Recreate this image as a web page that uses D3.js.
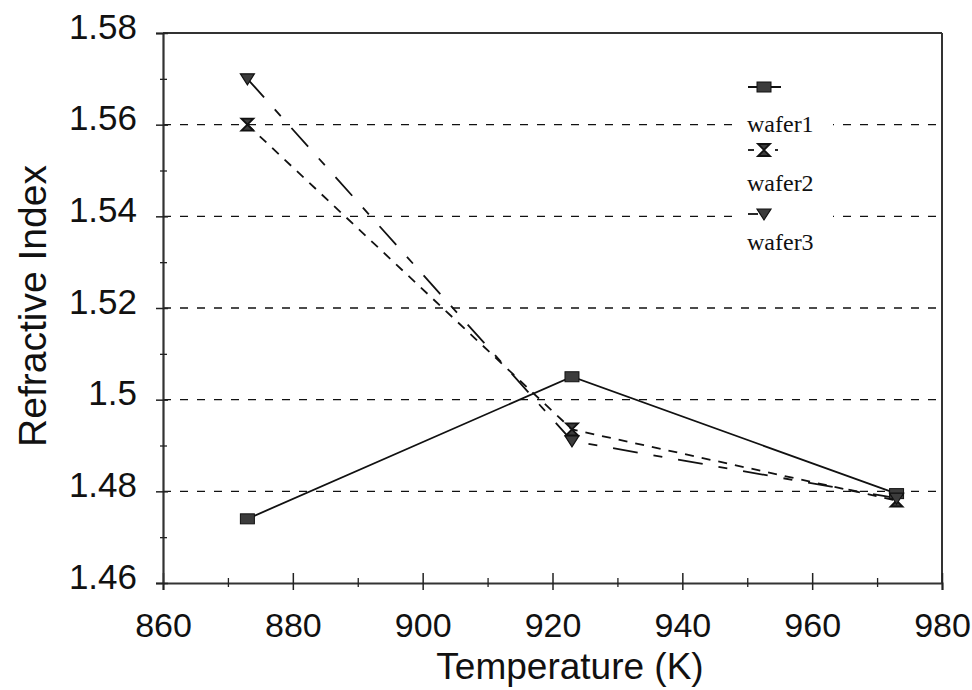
<!DOCTYPE html>
<html>
<head>
<meta charset="utf-8">
<script src="https://cdn.jsdelivr.net/npm/d3@7"></script>
<style>
  html, body { margin: 0; padding: 0; background: #fff; }
  svg { display: block; }
  text { font-family: "Liberation Sans", Arial, sans-serif; fill: #111; }
  .legend text { font-family: "Liberation Serif", "Times New Roman", serif; }
</style>
</head>
<body>
<svg id="chart" width="972" height="690"></svg>
<script>
// Annealing temperature (K) and measured refractive index per wafer
const temps = [873, 923, 973];
const wafer1 = [1.474, 1.505, 1.4795];
const wafer2 = [1.560, 1.4935, 1.478];
const wafer3 = [1.570, 1.491, 1.4785];

const seriesNames = ["wafer1", "wafer2", "wafer3"];
const xTicks = [860, 880, 900, 920, 940, 960, 980];
const xMinor = [870, 890, 910, 930, 950, 970];
const yTicks = [1.46, 1.48, 1.50, 1.52, 1.54, 1.56, 1.58];
const yMinor = [1.47, 1.49, 1.51, 1.53, 1.55, 1.57];
const gridValues = [1.48, 1.50, 1.52, 1.54, 1.56];

const svg = d3.select("#chart");
const plotLeft = 163, plotRight = 942, plotTop = 33, plotBottom = 583;

const x = d3.scaleLinear().domain([860, 980]).range([plotLeft, plotRight]);
const y = d3.scaleLinear().domain([1.46, 1.58]).range([plotBottom, plotTop]);

// dashed horizontal gridlines
svg.append("g")
  .selectAll("line")
  .data(gridValues)
  .join("line")
  .attr("x1", plotLeft).attr("x2", plotRight)
  .attr("y1", d => y(d)).attr("y2", d => y(d))
  .attr("stroke", "#111").attr("stroke-width", 1.3)
  .attr("stroke-dasharray", "8,9");

// frame: top and right borders
svg.append("line").attr("x1", plotLeft).attr("x2", plotRight).attr("y1", plotTop).attr("y2", plotTop)
  .attr("stroke", "#333").attr("stroke-width", 2);
svg.append("line").attr("x1", plotRight).attr("x2", plotRight).attr("y1", plotTop).attr("y2", plotBottom)
  .attr("stroke", "#333").attr("stroke-width", 2);

// x axis: major ticks cross the axis line, minor ticks are short
const xAxis = svg.append("g").attr("transform", `translate(0,${plotBottom})`)
  .call(d3.axisBottom(x).tickValues(xTicks).tickSize(7).tickFormat(d3.format("d")));
xAxis.select(".domain").attr("stroke", "#333").attr("stroke-width", 2);
xAxis.selectAll(".tick line").attr("y1", -10).attr("y2", 7).attr("stroke", "#222").attr("stroke-width", 1.5);
xAxis.selectAll(".tick text").attr("font-size", 34).attr("fill", "#111")
  .attr("dy", null).attr("y", 54);
const xAxisMinor = svg.append("g").attr("transform", `translate(0,${plotBottom})`)
  .call(d3.axisBottom(x).tickValues(xMinor).tickSize(4).tickFormat(""));
xAxisMinor.select(".domain").remove();
xAxisMinor.selectAll(".tick line").attr("y1", -5).attr("y2", 4).attr("stroke", "#222").attr("stroke-width", 1.3);

// y axis
const yAxis = svg.append("g").attr("transform", `translate(${plotLeft},0)`)
  .call(d3.axisLeft(y).tickValues(yTicks).tickSize(7)
    .tickFormat(d => d3.format("")(+d.toFixed(2))));
yAxis.select(".domain").attr("stroke", "#333").attr("stroke-width", 2.2);
yAxis.selectAll(".tick line").attr("x1", 5).attr("x2", -7).attr("stroke", "#222").attr("stroke-width", 1.5);
yAxis.selectAll(".tick text").attr("font-size", 35).attr("fill", "#111")
  .attr("dy", null).attr("y", 5).attr("x", -26);
const yAxisMinor = svg.append("g").attr("transform", `translate(${plotLeft},0)`)
  .call(d3.axisLeft(y).tickValues(yMinor).tickSize(3).tickFormat(""));
yAxisMinor.select(".domain").remove();
yAxisMinor.selectAll(".tick line").attr("x1", 4).attr("x2", -3).attr("stroke", "#222").attr("stroke-width", 1.3);

// axis titles
svg.append("text")
  .attr("x", 570).attr("y", 679)
  .attr("text-anchor", "middle").attr("font-size", 37)
  .text("Temperature (K)");
svg.append("text")
  .attr("transform", "translate(46,306) rotate(-90)")
  .attr("text-anchor", "middle").attr("font-size", 39)
  .text("Refractive Index");

// marker shapes
const markerFill = "#3c3c3c";
function drawMarker(g, kind) {
  if (kind === 0) {
    g.append("rect").attr("x", -7).attr("y", -5).attr("width", 14).attr("height", 10)
      .attr("fill", markerFill).attr("stroke", "#111").attr("stroke-width", 1);
  } else if (kind === 1) {
    g.append("path").attr("d", "M-6,-6 H6 L-6,6 H6 Z")
      .attr("fill", markerFill).attr("stroke", "#111").attr("stroke-width", 1.8);
  } else {
    g.append("path").attr("d", "M-7,-5 H7 L0,6 Z")
      .attr("fill", markerFill).attr("stroke", "#111").attr("stroke-width", 1.2);
  }
}

const series = [wafer1, wafer2, wafer3];
const dashes = [null, "9,8", "25,16,9,16"];
const line = d3.line().x(d => x(d[0])).y(d => y(d[1]));

series.forEach((vals, i) => {
  const pts = temps.map((t, k) => [t, vals[k]]);
  svg.append("path")
    .attr("d", line(pts))
    .attr("fill", "none").attr("stroke", "#111").attr("stroke-width", 1.8)
    .attr("stroke-dasharray", dashes[i]);
});
series.forEach((vals, i) => {
  temps.forEach((t, k) => {
    const g = svg.append("g").attr("transform", `translate(${x(t)},${y(vals[k])})`);
    drawMarker(g, i);
  });
});

// legend
const legend = svg.append("g").attr("class", "legend");
legend.append("rect").attr("x", 734).attr("y", 70).attr("width", 99).attr("height", 190).attr("fill", "#fff");
const markerY = [87, 150, 214];
const textY = [132, 191, 250];
seriesNames.forEach((name, i) => {
  const gy = markerY[i];
  if (i === 0) {
    legend.append("line").attr("x1", 748).attr("x2", 781).attr("y1", gy).attr("y2", gy)
      .attr("stroke", "#111").attr("stroke-width", 1.8);
  } else if (i === 1) {
    legend.append("line").attr("x1", 748).attr("x2", 754).attr("y1", gy).attr("y2", gy)
      .attr("stroke", "#111").attr("stroke-width", 1.8);
    legend.append("line").attr("x1", 775).attr("x2", 778).attr("y1", gy).attr("y2", gy)
      .attr("stroke", "#111").attr("stroke-width", 1.8);
  } else {
    legend.append("line").attr("x1", 748).attr("x2", 758).attr("y1", gy).attr("y2", gy)
      .attr("stroke", "#111").attr("stroke-width", 1.8);
  }
  const g = legend.append("g").attr("transform", `translate(764,${gy})`);
  drawMarker(g, i);
  legend.append("text").attr("x", 747).attr("y", textY[i])
    .attr("font-size", 24).text(name);
});
</script>
</body>
</html>
